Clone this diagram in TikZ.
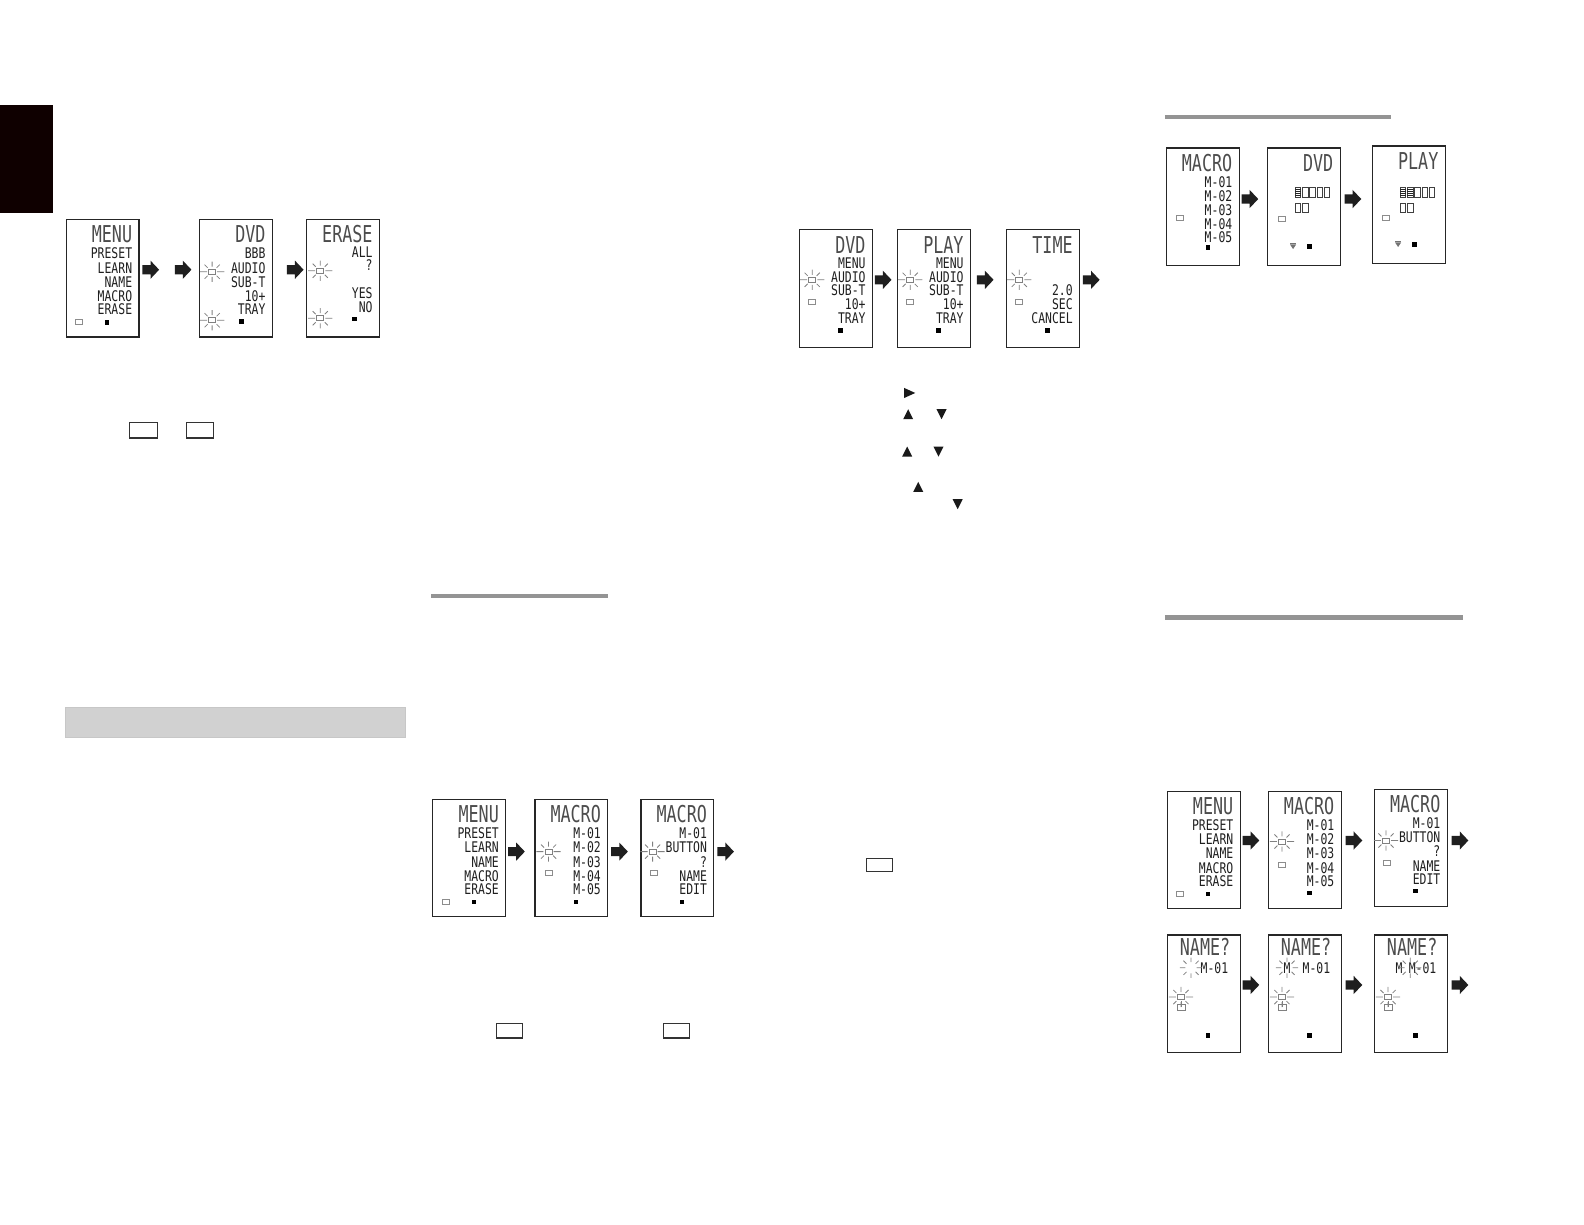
\documentclass[tikz,border=0pt]{standalone}
\usepackage{fontspec}
\newfontfamily\lcdT[FakeStretch=0.72]{DejaVu Sans Mono}
\newfontfamily\lcdL[FakeStretch=0.78]{DejaVu Sans Mono}
\tikzset{
 lcd/.style={draw=black!85, line width=1.1pt, minimum width=72pt, minimum height=116pt, inner sep=0pt, anchor=north west},
 ttl/.style={font=\lcdT\fontsize{23}{23}\selectfont, text=black!70, anchor=east, inner sep=0pt, text height=17pt, text depth=0pt},
 lin/.style={font=\lcdL\fontsize{14.5}{14.5}\selectfont, text=black!88, anchor=east, inner sep=0pt, text height=10.5pt, text depth=0pt},
 sq/.style={fill=black, minimum size=4.5pt, inner sep=0pt},
 grr/.style={draw=black!45, line width=0.7pt, minimum width=7pt, minimum height=5pt, inner sep=0pt},
 fl/.style={draw=black!50, line width=0.8pt},
 blk/.style={fill=black!88},
 btn/.style={draw=black!80, line width=1.1pt, minimum width=27pt, minimum height=15pt, inner sep=0pt, anchor=north west},
 cellS/.style={draw=black!75, line width=0.8pt},
 tri/.style={fill=black!90},
}
\newcommand\Scr[4]{\begin{scope}[shift={(#2,#3)}]\node[lcd] (#1) at (0,0) {};#4\end{scope}}
\newcommand\Ttl[2]{\node[ttl] (#1) at (66,15) {#2};}
\newcommand\Lin[3]{\node[lin] (#1) at (66,#2) {#3};}
\newcommand\Sq[3]{\node[sq] (#1) at (#2,#3) {};}
\newcommand\Gr[3]{\node[grr] (#1) at (#2,#3) {};}
\newcommand\Fl[3]{\begin{scope}[shift={(#2,#3)}]\coordinate (#1) at (0,0);
 \draw[fl] (-3.5,-2.5) rectangle (3.5,2.5);
 \draw[fl] (-12,0)--(-5,0) (5,0)--(12,0) (0,-5)--(0,-10) (0,5)--(0,10) (-4.5,-4)--(-7.5,-7) (4.5,-4)--(7.5,-7) (-4.5,4)--(-7.5,7) (4.5,4)--(7.5,7);
 \end{scope}}
\newcommand\Fr[3]{\begin{scope}[shift={(#2,#3)}]\coordinate (#1) at (0,0);
 \draw[fl] (-11,0)--(-5.5,0) (5.5,0)--(11,0) (0,-5.5)--(0,-10) (0,5.5)--(0,10) (-4.5,-4)--(-7.5,-7) (4.5,-4)--(7.5,-7) (-4.5,4)--(-7.5,7) (4.5,4)--(7.5,7);
 \end{scope}}
\newcommand\Ico[3]{\coordinate (#1) at (#2,#3);\draw[fl] (#2-4,#3-3) rectangle (#2+4,#3+3) (#2,#3-6)--(#2,#3);}
\newcommand\Tri[3]{\coordinate (#1) at (#2,#3);\fill[black!55] (#2-3,#3-2)--(#2+3,#3-2)--(#2,#3+2.5)--cycle;\draw[black!55,line width=0.7pt] (#2-3,#3-3.5)--(#2+3,#3-3.5);}
\newcommand\Cell[2]{\draw[cellS] (#1,#2) rectangle ++(5.5,9);}
\newcommand\SCell[2]{\draw[cellS] (#1,#2) rectangle ++(5.5,9);\draw[black!85,line width=1pt] (#1,#2+1.5)--++(5.5,0) (#1,#2+3.5)--++(5.5,0) (#1,#2+5.5)--++(5.5,0) (#1,#2+7.5)--++(5.5,0);}
\newcommand\Barr[2]{\fill[blk] (#1,#2-4.5) -- ++(8,0) -- ++(0,-4.5) -- ++(8.5,9) -- ++(-8.5,9) -- ++(0,-4.5) -- ++(-8,0) -- cycle;}
\newcommand\menuL[1]{\Ttl{#1t}{MENU}\Lin{#1a}{34}{PRESET}\Lin{#1b}{48}{LEARN}\Lin{#1c}{62}{NAME}\Lin{#1d}{76}{MACRO}\Lin{#1e}{89}{ERASE}\Gr{#1g}{13}{102}\Sq{#1s}{41}{102}}
\newcommand\macL[1]{\Ttl{#1t}{MACRO}\Lin{#1a}{34}{M-01}\Lin{#1b}{48}{M-02}\Lin{#1c}{62}{M-03}\Lin{#1d}{76}{M-04}\Lin{#1e}{89}{M-05}}
\newcommand\macB[1]{\Ttl{#1t}{MACRO}\Lin{#1a}{34}{M-01}\Lin{#1b}{48}{BUTTON}\Lin{#1c}{62}{?}\Lin{#1d}{76}{NAME}\Lin{#1e}{89}{EDIT}}
\newcommand\dvdL[1]{\Lin{#1a}{34}{MENU}\Lin{#1b}{47}{AUDIO}\Lin{#1c}{60}{SUB-T}\Lin{#1d}{74}{10+}\Lin{#1e}{88}{TRAY}}
\begin{document}
\begin{tikzpicture}[x=1pt,y=-1pt]
\useasboundingbox (0,0) rectangle (1568,1212);
% black tab
\fill[black!90!red!60!black] (0,104) rectangle (52,211);
% ---- top left row
\Scr{m1}{65}{217}{\menuL{m1}}
\Scr{d1}{197}{217}{\Ttl{d1t}{DVD}\Lin{d1a}{34}{BBB}\Lin{d1b}{48}{AUDIO}\Lin{d1c}{62}{SUB-T}\Lin{d1d}{76}{10+}\Lin{d1e}{89}{TRAY}\Fl{d1f}{13}{52}\Fl{d1h}{13}{100}\Sq{d1s}{42}{101}}
\Scr{e1}{303}{217}{\Ttl{e1t}{ERASE}\Lin{e1a}{33}{ALL}\Lin{e1b}{46}{?}\Lin{e1c}{73}{YES}\Lin{e1d}{87}{NO}\Fl{e1f}{14}{51}\Fl{e1h}{14}{98}\Sq{e1s}{48}{99}}
\Barr{141}{267}\Barr{173}{267}\Barr{284}{267}
% buttons
\node[btn] (b1) at (128,418) {};
\node[btn] (b2) at (184,418) {};
% grey band
\node[fill=black!18, draw=black!22, line width=0.6pt, minimum width=337pt, minimum height=30pt, inner sep=0pt, anchor=north west] (band) at (64,700) {};
% grey rule
\draw[black!42, line width=4.5pt] (427,590) -- (602,590);
% ---- bottom left row
\Scr{m2}{428}{791}{\menuL{m2}}
\Scr{c1}{529}{791}{\macL{c1}\Fl{c1f}{14}{52}\Gr{c1g}{14}{73}\Sq{c1s}{41}{102}}
\Scr{c2}{634}{791}{\macB{c2}\Fl{c2f}{12}{52}\Gr{c2g}{13}{73}\Sq{c2s}{41}{102}}
\Barr{503}{843}\Barr{605}{843}\Barr{710}{843}
\node[btn, minimum width=26pt, minimum height=14pt] (b3) at (491,1013) {};
\node[btn, minimum width=26pt, minimum height=14pt] (b4) at (656,1013) {};
% ---- middle row
\Scr{d2}{791}{227}{\Ttl{d2t}{DVD}\dvdL{d2}\Fl{d2f}{13}{50}\Gr{d2g}{13}{72}\Sq{d2s}{41}{100}}
\Scr{p1}{888}{227}{\Ttl{p1t}{PLAY}\dvdL{p1}\Fl{p1f}{13}{50}\Gr{p1g}{13}{72}\Sq{p1s}{41}{100}}
\Scr{t1}{996}{227}{\Ttl{t1t}{TIME}\Lin{t1a}{60}{2.0}\Lin{t1b}{74}{SEC}\Lin{t1c}{88}{CANCEL}\Fl{t1f}{13}{50}\Gr{t1g}{13}{72}\Sq{t1s}{41}{100}}
\Barr{866}{277}\Barr{967}{277}\Barr{1072}{277}
% triangles
\fill[tri] (895,384) -- (906,389) -- (895,394) -- cycle;
\fill[tri] (894,415) -- (904,415) -- (899,405) -- cycle;
\fill[tri] (927,405) -- (937,405) -- (932,415) -- cycle;
\fill[tri] (893,452) -- (903,452) -- (898,442) -- cycle;
\fill[tri] (924,442) -- (934,442) -- (929,452) -- cycle;
\fill[tri] (904,487) -- (914,487) -- (909,477) -- cycle;
\fill[tri] (943,494) -- (953,494) -- (948,504) -- cycle;
\node[btn, minimum width=26pt, minimum height=13pt] (b5) at (857,849) {};
% ---- right top
\draw[black!42, line width=4.5pt] (1153,116) -- (1377,116);
\Scr{c3}{1154}{146}{\macL{c3}\Gr{c3g}{14}{70}\Sq{c3s}{42}{99}}
\Scr{d3}{1254}{146}{\Ttl{d3t}{DVD}\SCell{28}{40}\Cell{35.2}{40}\Cell{42.4}{40}\Cell{49.6}{40}\Cell{56.8}{40}\Cell{28}{55}\Cell{35.2}{55}\Gr{d3g}{15}{71}\Tri{d3v}{26}{98}\Sq{d3s}{42}{98}}
\Scr{p2}{1358}{144}{\Ttl{p2t}{PLAY}\SCell{28}{42}\SCell{35.2}{42}\Cell{42.4}{42}\Cell{49.6}{42}\Cell{56.8}{42}\Cell{28}{57}\Cell{35.2}{57}\Gr{p2g}{14}{72}\Tri{p2v}{26}{98}\Sq{p2s}{42}{98}}
\Barr{1229}{197}\Barr{1331}{197}
% ---- right middle
\draw[black!42, line width=4.5pt] (1153,611) -- (1448,611);
\Scr{m3}{1155}{783}{\menuL{m3}}
\Scr{c4}{1255}{783}{\macL{c4}\Fl{c4f}{14}{50}\Gr{c4g}{14}{73}\Sq{c4s}{41}{101}}
\Scr{c5}{1360}{781}{\macB{c5}\Fl{c5f}{12}{51}\Gr{c5g}{13}{73}\Sq{c5s}{41}{101}}
\Barr{1230}{832}\Barr{1332}{832}\Barr{1437}{832}
% ---- right bottom
\Scr{n1}{1155}{925}{\node[ttl] (n1t) at (63,12) {NAME?};\node[lin] (n1a) at (61,33) {M-01};\Fr{n1f}{24}{33}\Fl{n1h}{14}{62}\Ico{n1i}{14}{72}\Sq{n1s}{41}{100}}
\Scr{n2}{1255}{925}{\node[ttl] (n2t) at (63,12) {NAME?};\node[lin] (n2a) at (62,33) {M-01};\node[lin,anchor=center] (n2m) at (19,33) {M};\Fr{n2f}{19}{33}\Fl{n2h}{14}{62}\Ico{n2i}{14}{72}\Sq{n2s}{41}{100}}
\Scr{n3}{1360}{925}{\node[ttl] (n3t) at (63,12) {NAME?};\node[lin] (n3a) at (62,33) {M-01};\node[lin,anchor=center] (n3m) at (25,33) {M};\Fr{n3f}{36}{33}\Fl{n3h}{14}{62}\Ico{n3i}{14}{72}\Sq{n3s}{41}{100}}
\Barr{1230}{975}\Barr{1332}{975}\Barr{1437}{975}
\end{tikzpicture}
\end{document}
